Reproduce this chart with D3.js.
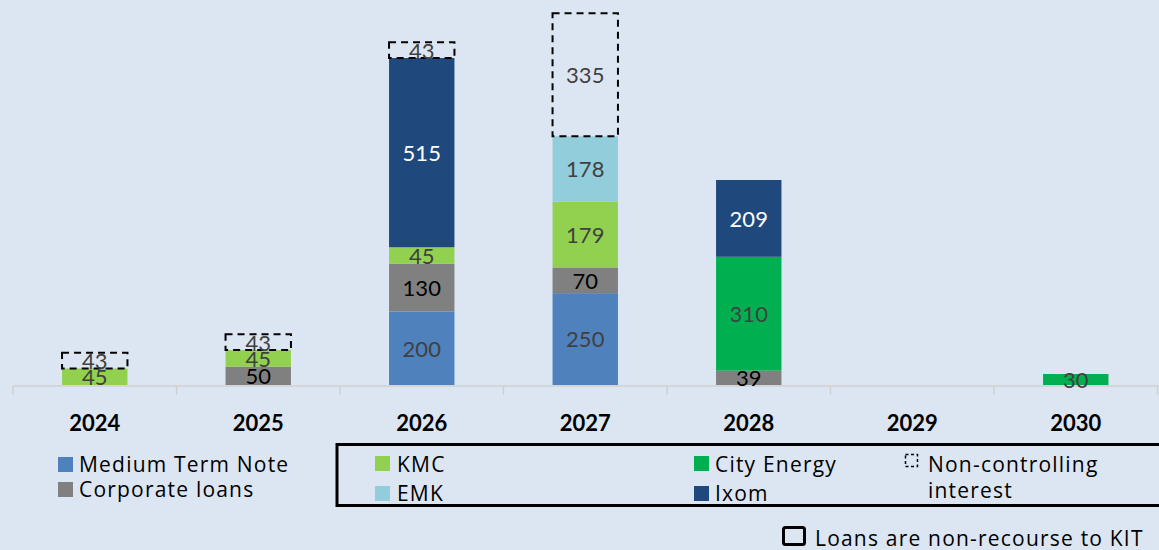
<!DOCTYPE html>
<html>
<head>
<meta charset="utf-8">
<script src="https://cdn.jsdelivr.net/npm/d3@7"></script>
<style>
  html, body { margin: 0; padding: 0; background: #dce6f2; }
  svg { display: block; }
  text { font-family: Lato, "Open Sans", sans-serif; }
  .leg text { font-family: "Open Sans", Lato, sans-serif; letter-spacing: 1.2px; }
</style>
</head>
<body>
<svg id="chart" width="1159" height="550"></svg>
<script>
// ---- Data ----
const years = ["2024", "2025", "2026", "2027", "2028", "2029", "2030"];
const mediumTermNote = [0, 0, 200, 250, 0, 0, 0];
const corporateLoans = [0, 50, 130, 70, 39, 0, 0];
const kmc            = [45, 45, 45, 179, 0, 0, 0];
const cityEnergy     = [0, 0, 0, 0, 310, 0, 30];
const emk            = [0, 0, 0, 178, 0, 0, 0];
const ixom           = [0, 0, 515, 0, 209, 0, 0];
const nonControlling = [43, 43, 43, 335, 0, 0, 0];

const seriesNames = ["Medium Term Note", "Corporate loans", "KMC", "City Energy", "EMK", "Ixom", "Non-controlling interest"];
const seriesKeys  = ["mtn", "corp", "kmc", "city", "emk", "ixom", "nci"];
const seriesValues = [mediumTermNote, corporateLoans, kmc, cityEnergy, emk, ixom, nonControlling];

const colors = { mtn: "#4f81bd", corp: "#808080", kmc: "#92d050", city: "#00b050", emk: "#92cddc", ixom: "#1f497d", nci: "none" };
const labelColors = { mtn: "#404040", corp: "#000000", kmc: "#404040", city: "#404040", emk: "#404040", ixom: "#ffffff", nci: "#404040" };

// ---- Build table ----
const table = years.map((y, i) => {
  const row = { year: y };
  seriesKeys.forEach((k, j) => row[k] = seriesValues[j][i]);
  return row;
});

const svg = d3.select("#chart");

const x = d3.scaleBand().domain(years).range([13, 1157.5]).paddingInner(0.6).paddingOuter(0.3);
const y = d3.scaleLinear().domain([0, 1048]).range([385, 0]);

const stacked = d3.stack().keys(seriesKeys)(table);

// bars
const layers = svg.append("g").selectAll("g").data(stacked).join("g");
layers.each(function(layer) {
  const key = layer.key;
  const g = d3.select(this);
  layer.forEach((d, i) => {
    const v = d[1] - d[0];
    if (v <= 0) return;
    const r = g.append("rect")
      .attr("x", x(years[i])).attr("y", y(d[1]))
      .attr("width", x.bandwidth()).attr("height", y(d[0]) - y(d[1]));
    if (key === "nci") {
      r.attr("fill", "none").attr("stroke", "#000").attr("stroke-width", 2)
        .attr("stroke-dasharray", "7,5");
    } else {
      r.attr("fill", colors[key]);
    }
  });
});

// axis line and ticks
const axisG = svg.append("g").attr("class", "axis");
axisG.append("line").attr("x1", 13).attr("x2", 1159).attr("y1", 386).attr("y2", 386)
  .attr("stroke", "#d0d0d0").attr("stroke-width", 1.5);
const bx = d3.range(years.length + 1).map(i => x(years[0]) - x.paddingOuter() * x.step() + i * x.step());
axisG.selectAll("line.tick").data(bx).join("line").attr("class", "tick")
  .attr("x1", d => d).attr("x2", d => d).attr("y1", 386).attr("y2", 395)
  .attr("stroke", "#d0d0d0").attr("stroke-width", 1.5);

// category labels
svg.append("g").selectAll("text").data(years).join("text")
  .attr("x", d => x(d) + x.bandwidth() / 2)
  .attr("y", 431)
  .attr("text-anchor", "middle")
  .attr("font-size", 22).attr("font-weight", "bold").attr("fill", "#000")
  .text(d => d);

// value labels
const labG = svg.append("g");
stacked.forEach(layer => {
  layer.forEach((d, i) => {
    const v = d[1] - d[0];
    if (v <= 0) return;
    labG.append("text")
      .attr("x", x(years[i]) + x.bandwidth() / 2)
      .attr("y", (y(d[0]) + y(d[1])) / 2)
      .attr("dy", "0.38em")
      .attr("text-anchor", "middle")
      .attr("font-size", 22)
      .attr("fill", labelColors[layer.key])
      .text(v);
  });
});

// legend
const lg = svg.append("g").attr("class", "leg").attr("font-size", 21).attr("fill", "#000");
function sq(xp, yp, key) {
  lg.append("rect").attr("x", xp).attr("y", yp).attr("width", 15).attr("height", 15).attr("fill", colors[key]);
}
function tx(xp, yp, t) {
  lg.append("text").attr("x", xp).attr("y", yp).attr("fill", "#000").text(t);
}
sq(58, 457, "mtn"); tx(79, 472, seriesNames[0]);
sq(58, 482, "corp"); tx(79, 497, seriesNames[1]);

lg.append("rect").attr("x", 337).attr("y", 444.5).attr("width", 840).attr("height", 61)
  .attr("fill", "none").attr("stroke", "#000").attr("stroke-width", 3);

sq(375, 456, "kmc"); tx(397, 472, seriesNames[2]);
sq(375, 486, "emk"); tx(397, 501, seriesNames[4]);
sq(694, 456, "city"); tx(715, 472, seriesNames[3]);
sq(694, 486, "ixom"); tx(715, 501, seriesNames[5]);
lg.append("rect").attr("x", 905.5).attr("y", 454.5).attr("width", 12).attr("height", 12)
  .attr("fill", "none").attr("stroke", "#000").attr("stroke-width", 1.5).attr("stroke-dasharray", "3,2.5");
tx(928, 472, "Non-controlling");
tx(928, 498, "interest");

lg.append("rect").attr("x", 783.5).attr("y", 527.5).attr("width", 21).attr("height", 17).attr("rx", 2)
  .attr("fill", "none").attr("stroke", "#000").attr("stroke-width", 3);
tx(815, 545.5, "Loans are non-recourse to KIT");
</script>
</body>
</html>
